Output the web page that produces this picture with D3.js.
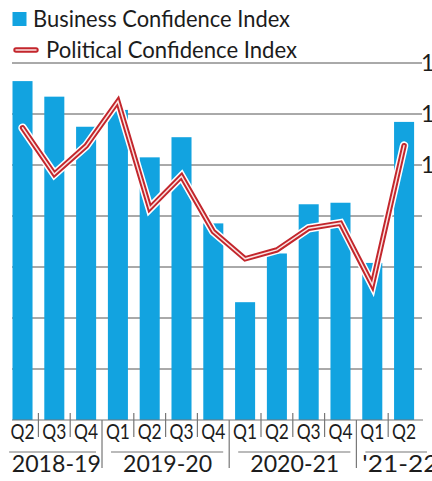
<!DOCTYPE html>
<html>
<head>
<meta charset="utf-8">
<script src="https://cdn.jsdelivr.net/npm/d3@7"></script>
<style>
  html, body { margin: 0; padding: 0; background: #fff; overflow: hidden; }
  svg { display: block; font-family: Lato, "Liberation Sans", sans-serif; }
</style>
</head>
<body>
<svg id="chart" width="432" height="481"></svg>
<script>
// Quarterly confidence indices, Q2 2018-19 to Q2 2021-22
const quarterLabels = ["Q2", "Q3", "Q4", "Q1", "Q2", "Q3", "Q4", "Q1", "Q2", "Q3", "Q4", "Q1", "Q2"];
const yearLabels = ["2018-19", "2019-20", "2020-21", "'21-22"];
const quartersPerYear = [3, 4, 4, 2];
const businessIndex = [132.9, 126.8, 115.0, 121.6, 103.0, 110.9, 77.1, 46.2, 65.3, 84.6, 85.2, 61.6, 116.9];
const politicalIndex = [114.6, 96.4, 107.5, 125.0, 83.0, 95.6, 73.9, 63.2, 66.7, 75.2, 77.2, 53.0, 107.6];
const yTicks = [0, 20, 40, 60, 80, 100, 120, 140];

const BAR = "#12a3e0";
const RED = "#c3262c";
const INK = "#1c1c1c";

const svg = d3.select("#chart");
const idx = d3.range(quarterLabels.length);

const x = d3.scaleBand().domain(idx).range([12.5, 414.1]).paddingInner(0.37).paddingOuter(0);
const y = d3.scaleLinear().domain([0, 140]).range([420, 63]);
const bw = x.bandwidth();
const gap = x.step() - bw;
const cx = i => x(i) + bw / 2;

// Horizontal gridlines with right-hand value labels
const grid = svg.append("g");
grid.selectAll("line")
  .data(yTicks.filter(t => t > 0))
  .join("line")
  .attr("x1", 12).attr("x2", 422)
  .attr("y1", d => y(d)).attr("y2", d => y(d))
  .attr("stroke", "#555").attr("stroke-width", 1);
grid.selectAll("text")
  .data(yTicks.filter(t => t > 0))
  .join("text")
  .attr("x", 461).attr("y", d => y(d)).attr("dy", "0.35em")
  .attr("text-anchor", "end")
  .attr("font-size", 23).attr("fill", INK)
  .text(d => d);

// Bars
svg.append("g").selectAll("rect")
  .data(businessIndex)
  .join("rect")
  .attr("x", (d, i) => x(i))
  .attr("width", bw)
  .attr("y", d => y(d))
  .attr("height", d => y(0) - y(d))
  .attr("fill", BAR);

// Baseline
svg.append("line")
  .attr("x1", 12).attr("x2", 423)
  .attr("y1", y(0)).attr("y2", y(0))
  .attr("stroke", "#777").attr("stroke-width", 1.2);

// Political index: red line with light core and white halo
const line = d3.line().x((d, i) => cx(i)).y(d => y(d));
const lineG = svg.append("g").attr("fill", "none")
  .attr("stroke-linecap", "round").attr("stroke-linejoin", "miter");
lineG.append("path").attr("d", line(politicalIndex)).attr("stroke", "#fff").attr("stroke-width", 8.5);
lineG.append("path").attr("d", line(politicalIndex)).attr("stroke", RED).attr("stroke-width", 5.4);
lineG.append("path").attr("d", line(politicalIndex)).attr("stroke", "#fbe3e2").attr("stroke-width", 1.5);

// Category axis: quarter separators, quarter labels, fiscal-year groups
const yearStart = [];
quartersPerYear.reduce((acc, n) => { yearStart.push(acc); return acc + n; }, 0);
const boundary = i => x(i) - gap / 2;
const axis = svg.append("g");

axis.selectAll("line.sep")
  .data(d3.range(1, quarterLabels.length))
  .join("line")
  .attr("class", "sep")
  .attr("x1", i => boundary(i)).attr("x2", i => boundary(i))
  .attr("y1", i => yearStart.includes(i) ? y(0) : 413)
  .attr("y2", i => yearStart.includes(i) ? 468 : 437)
  .attr("stroke", "#777").attr("stroke-width", 1.2);

axis.selectAll("text.q")
  .data(quarterLabels)
  .join("text")
  .attr("class", "q")
  .attr("x", (d, i) => cx(i)).attr("y", 438.5)
  .attr("text-anchor", "middle")
  .attr("font-size", 22).attr("fill", INK)
  .attr("textLength", 24).attr("lengthAdjust", "spacingAndGlyphs")
  .text(d => d);

const groups = yearLabels.map((label, k) => {
  const first = yearStart[k];
  const last = first + quartersPerYear[k] - 1;
  const left = k === 0 ? x(first) - gap / 2 : boundary(first);
  const right = last === quarterLabels.length - 1 ? 432 : boundary(last + 1);
  return { label, left, right, last: k === yearLabels.length - 1 };
});

axis.selectAll("line.under")
  .data(groups)
  .join("line")
  .attr("class", "under")
  .attr("x1", g => g.left + (g.left < 20 ? 2.5 : 9))
  .attr("x2", g => g.right - (g.last ? 5 : 6))
  .attr("y1", 452).attr("y2", 452)
  .attr("stroke", "#777").attr("stroke-width", 1.2);

axis.selectAll("text.yr")
  .data(groups)
  .join("text")
  .attr("class", "yr")
  .attr("x", g => g.last ? g.left + 6 : (g.left + g.right) / 2 + 2)
  .attr("y", 472)
  .attr("text-anchor", g => g.last ? "start" : "middle")
  .attr("font-size", 23).attr("fill", INK)
  .attr("textLength", g => g.last ? 76 : 89).attr("lengthAdjust", "spacingAndGlyphs")
  .text(g => g.label);

// Legend
const legend = svg.append("g");
legend.append("rect").attr("x", 12.5).attr("y", 12).attr("width", 14).attr("height", 14).attr("fill", BAR);
legend.append("text").attr("x", 33).attr("y", 27)
  .attr("font-size", 23).attr("fill", INK)
  .attr("textLength", 257).attr("lengthAdjust", "spacingAndGlyphs")
  .text("Business Confidence Index");
const sw = d3.line()([[16, 50], [36, 50]]);
legend.append("path").attr("d", sw).attr("stroke", "#fff").attr("stroke-width", 8.5).attr("stroke-linecap", "round");
legend.append("path").attr("d", sw).attr("stroke", RED).attr("stroke-width", 5.4).attr("stroke-linecap", "round");
legend.append("path").attr("d", sw).attr("stroke", "#fbe3e2").attr("stroke-width", 1.5).attr("stroke-linecap", "round");
legend.append("text").attr("x", 46).attr("y", 58)
  .attr("font-size", 23).attr("fill", INK)
  .attr("textLength", 251).attr("lengthAdjust", "spacingAndGlyphs")
  .text("Political Confidence Index");
</script>
</body>
</html>
